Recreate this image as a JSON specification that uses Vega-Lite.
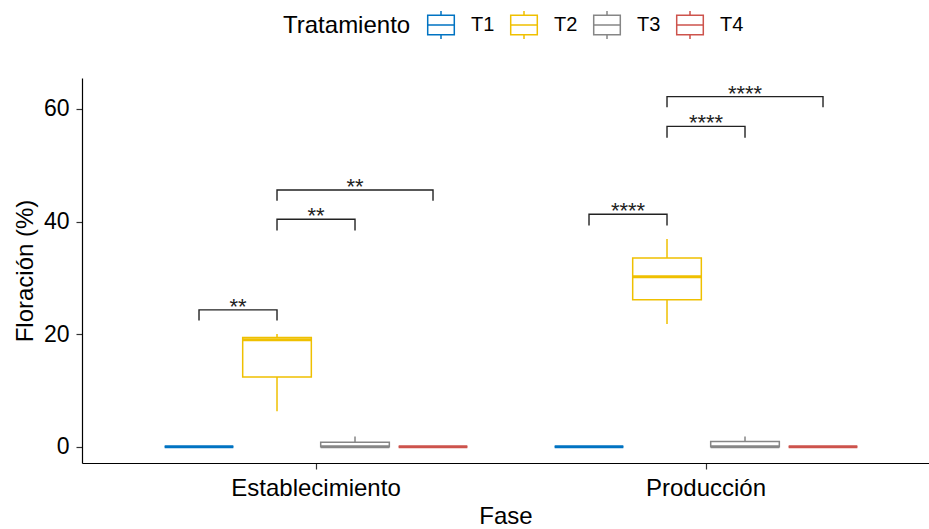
{
  "$schema": "https://vega.github.io/schema/vega-lite/v6.json",
  "width": 847,
  "height": 385,
  "autosize": {"type": "none"},
  "padding": {"left": 82, "top": 78, "right": 0, "bottom": 66},
  "config": {"font": "Liberation Sans", "view": {"stroke": null}},
  "datasets": {
    "boxes": [
      {"Fase": "Establecimiento", "Tratamiento": "T1", "min": 0, "q1": 0, "median": 0, "q3": 0, "max": 0},
      {"Fase": "Establecimiento", "Tratamiento": "T2", "min": 6.3, "q1": 12.4, "median": 19.0, "q3": 19.4, "max": 20.0},
      {"Fase": "Establecimiento", "Tratamiento": "T3", "min": 0, "q1": 0, "median": 0, "q3": 0.8, "max": 1.8},
      {"Fase": "Establecimiento", "Tratamiento": "T4", "min": 0, "q1": 0, "median": 0, "q3": 0, "max": 0},
      {"Fase": "Producción", "Tratamiento": "T1", "min": 0, "q1": 0, "median": 0, "q3": 0, "max": 0},
      {"Fase": "Producción", "Tratamiento": "T2", "min": 21.8, "q1": 26.1, "median": 30.2, "q3": 33.5, "max": 36.9},
      {"Fase": "Producción", "Tratamiento": "T3", "min": 0, "q1": 0, "median": 0, "q3": 0.9, "max": 1.8},
      {"Fase": "Producción", "Tratamiento": "T4", "min": 0, "q1": 0, "median": 0, "q3": 0, "max": 0}
    ],
    "brackets": [
      {"id": "E12", "Fase": "Establecimiento", "Tratamiento": "T1", "y": 22.4, "ord": 1},
      {"id": "E12", "Fase": "Establecimiento", "Tratamiento": "T1", "y": 24.3, "ord": 2},
      {"id": "E12", "Fase": "Establecimiento", "Tratamiento": "T2", "y": 24.3, "ord": 3},
      {"id": "E12", "Fase": "Establecimiento", "Tratamiento": "T2", "y": 22.4, "ord": 4},
      {"id": "E23", "Fase": "Establecimiento", "Tratamiento": "T2", "y": 38.4, "ord": 1},
      {"id": "E23", "Fase": "Establecimiento", "Tratamiento": "T2", "y": 40.4, "ord": 2},
      {"id": "E23", "Fase": "Establecimiento", "Tratamiento": "T3", "y": 40.4, "ord": 3},
      {"id": "E23", "Fase": "Establecimiento", "Tratamiento": "T3", "y": 38.4, "ord": 4},
      {"id": "E24", "Fase": "Establecimiento", "Tratamiento": "T2", "y": 43.7, "ord": 1},
      {"id": "E24", "Fase": "Establecimiento", "Tratamiento": "T2", "y": 45.6, "ord": 2},
      {"id": "E24", "Fase": "Establecimiento", "Tratamiento": "T4", "y": 45.6, "ord": 3},
      {"id": "E24", "Fase": "Establecimiento", "Tratamiento": "T4", "y": 43.7, "ord": 4},
      {"id": "P12", "Fase": "Producción", "Tratamiento": "T1", "y": 39.3, "ord": 1},
      {"id": "P12", "Fase": "Producción", "Tratamiento": "T1", "y": 41.3, "ord": 2},
      {"id": "P12", "Fase": "Producción", "Tratamiento": "T2", "y": 41.3, "ord": 3},
      {"id": "P12", "Fase": "Producción", "Tratamiento": "T2", "y": 39.3, "ord": 4},
      {"id": "P23", "Fase": "Producción", "Tratamiento": "T2", "y": 54.9, "ord": 1},
      {"id": "P23", "Fase": "Producción", "Tratamiento": "T2", "y": 56.9, "ord": 2},
      {"id": "P23", "Fase": "Producción", "Tratamiento": "T3", "y": 56.9, "ord": 3},
      {"id": "P23", "Fase": "Producción", "Tratamiento": "T3", "y": 54.9, "ord": 4},
      {"id": "P24", "Fase": "Producción", "Tratamiento": "T2", "y": 60.3, "ord": 1},
      {"id": "P24", "Fase": "Producción", "Tratamiento": "T2", "y": 62.2, "ord": 2},
      {"id": "P24", "Fase": "Producción", "Tratamiento": "T4", "y": 62.2, "ord": 3},
      {"id": "P24", "Fase": "Producción", "Tratamiento": "T4", "y": 60.3, "ord": 4}
    ],
    "labelsAdj": [
      {"Fase": "Establecimiento", "Tratamiento": "T1", "y": 24.3, "label": "**"},
      {"Fase": "Establecimiento", "Tratamiento": "T2", "y": 40.4, "label": "**"},
      {"Fase": "Producción", "Tratamiento": "T1", "y": 41.3, "label": "****"},
      {"Fase": "Producción", "Tratamiento": "T2", "y": 56.9, "label": "****"}
    ],
    "labelsWide": [
      {"Fase": "Establecimiento", "Tratamiento": "T3", "y": 45.6, "label": "**"},
      {"Fase": "Producción", "Tratamiento": "T3", "y": 62.2, "label": "****"}
    ]
  },
  "encoding": {
    "x": {
      "field": "Fase", "type": "nominal", "sort": ["Establecimiento", "Producción"],
      "scale": {"paddingInner": 0.2, "paddingOuter": 0.1859, "align": 0.538},
      "axis": {
        "title": "Fase", "labelAngle": 0, "labelFontSize": 24, "titleFontSize": 24,
        "titleFontWeight": "normal", "labelColor": "black", "titleColor": "black",
        "domainColor": "black", "domainWidth": 1.2, "tickColor": "#333333", "tickWidth": 1.2,
        "tickSize": 6, "labelPadding": 7, "titlePadding": 4
      }
    },
    "xOffset": {
      "field": "Tratamiento", "type": "nominal", "sort": ["T1", "T2", "T3", "T4"],
      "scale": {"paddingInner": 0.12, "paddingOuter": 0.06}
    }
  },
  "layer": [
    {
      "data": {"name": "boxes"},
      "mark": {"type": "rule", "strokeWidth": 1.5},
      "encoding": {
        "y": {
          "field": "min", "type": "quantitative",
          "scale": {"domain": [-2.9, 65.5], "nice": false, "zero": false},
          "axis": {
            "title": "Floración (%)", "values": [0, 20, 40, 60], "grid": false,
            "labelFontSize": 23, "titleFontSize": 24, "titleFontWeight": "normal",
            "labelColor": "black", "titleColor": "black", "domainColor": "black",
            "domainWidth": 1.2, "tickColor": "#333333", "tickWidth": 1.2, "tickSize": 6,
            "labelPadding": 7, "titlePadding": 6
          }
        },
        "y2": {"field": "q1"},
        "stroke": {
          "field": "Tratamiento", "type": "nominal",
          "scale": {"domain": ["T1", "T2", "T3", "T4"], "range": ["#0073C2", "#EFC000", "#868686", "#CD534C"]},
          "legend": {
            "title": "Tratamiento", "orient": "none", "legendX": 201, "legendY": -68,
            "direction": "horizontal", "titleOrient": "left", "titleFontSize": 24,
            "titleFontWeight": "normal", "titleColor": "black", "titlePadding": 15,
            "labelFontSize": 20, "labelColor": "black", "labelOffset": 15, "columnPadding": 12,
            "symbolType": "M-0.95,-0.7H0.95V0.7H-0.95Z M-0.95,0H0.95 M0,-0.7V-1 M0,0.7V1",
            "symbolSize": 784, "symbolStrokeWidth": 1.5, "symbolFillColor": "white"
          }
        }
      }
    },
    {
      "data": {"name": "boxes"},
      "mark": {"type": "rule", "strokeWidth": 1.5},
      "encoding": {
        "y": {"field": "q3", "type": "quantitative"},
        "y2": {"field": "max"},
        "stroke": {"field": "Tratamiento", "type": "nominal"}
      }
    },
    {
      "data": {"name": "boxes"},
      "mark": {"type": "bar", "fill": "white", "strokeWidth": 1.5},
      "encoding": {
        "y": {"field": "q1", "type": "quantitative"},
        "y2": {"field": "q3"},
        "stroke": {"field": "Tratamiento", "type": "nominal"}
      }
    },
    {
      "data": {"name": "boxes"},
      "mark": {"type": "bar", "fill": "white", "strokeWidth": 3},
      "encoding": {
        "y": {"field": "median", "type": "quantitative"},
        "y2": {"field": "median"},
        "stroke": {"field": "Tratamiento", "type": "nominal"}
      }
    },
    {
      "data": {"name": "brackets"},
      "mark": {"type": "line", "stroke": "#222222", "strokeWidth": 1.4},
      "encoding": {
        "y": {"field": "y", "type": "quantitative"},
        "detail": {"field": "id"},
        "order": {"field": "ord", "type": "quantitative"}
      }
    },
    {
      "data": {"name": "labelsAdj"},
      "mark": {"type": "text", "fontSize": 22, "baseline": "alphabetic", "dy": 4, "dx": 39, "color": "#222222"},
      "encoding": {
        "y": {"field": "y", "type": "quantitative"},
        "text": {"field": "label"}
      }
    },
    {
      "data": {"name": "labelsWide"},
      "mark": {"type": "text", "fontSize": 22, "baseline": "alphabetic", "dy": 4, "color": "#222222"},
      "encoding": {
        "y": {"field": "y", "type": "quantitative"},
        "text": {"field": "label"}
      }
    }
  ]
}
